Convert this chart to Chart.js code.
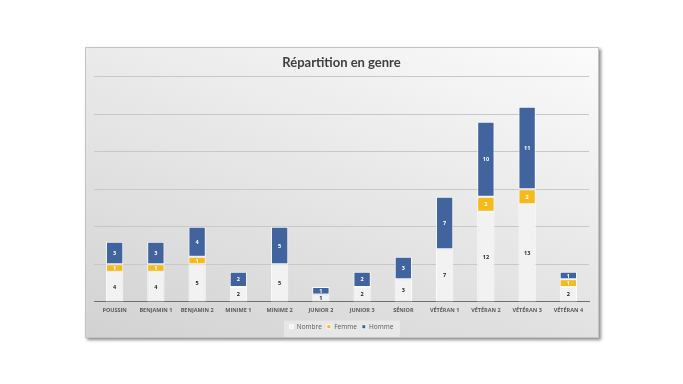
<!DOCTYPE html>
<html>
<head>
<meta charset="utf-8">
<script src="https://cdn.jsdelivr.net/npm/chart.js@4/dist/chart.umd.min.js"></script>
<style>
    html, body { margin: 0; padding: 0; background: #fff; }
    #box {
        position: absolute;
        left: 85px; top: 47px;
        width: 512px; height: 289px;
        background: linear-gradient(200deg, #fbfbfb 0%, #e8e8e8 45%, #d2d2d2 100%);
        border: 1px solid #c4c4c4;
        box-shadow: 2px 2px 3px rgba(0, 0, 0, 0.45);
    }
</style>
</head>
<body>
<div id="box"><canvas id="myChart" width="512" height="289"></canvas></div>
<script>
// Catégories et séries
const categories = ['POUSSIN', 'BENJAMIN 1', 'BENJAMIN 2', 'MINIME 1', 'MINIME 2', 'JUNIOR 2',
    'JUNIOR 3', 'SÉNIOR', 'VÉTÉRAN 1', 'VÉTÉRAN 2', 'VÉTÉRAN 3', 'VÉTÉRAN 4'];
const nombre = [4, 4, 5, 2, 5, 1, 2, 3, 7, 12, 13, 2];
const femme  = [1, 1, 1, 0, 0, 0, 0, 0, 0, 2, 2, 1];
const homme  = [3, 3, 4, 2, 5, 1, 2, 3, 7, 10, 11, 1];

const labelColors = ['#262626', '#ffffff', '#ffffff'];

// Valeurs au centre des barres
const barLabels = {
    id: 'barLabels',
    afterDatasetsDraw(chart) {
        const {ctx, data} = chart;
        ctx.save();
        ctx.font = '700 5.5px "Open Sans"';
        ctx.textAlign = 'center';
        ctx.textBaseline = 'middle';
        data.datasets.forEach((ds, di) => {
            chart.getDatasetMeta(di).data.forEach((bar, i) => {
                const v = ds.data[i];
                if (!v) return;
                ctx.fillStyle = labelColors[di];
                ctx.fillText(v, bar.x, (bar.y + bar.base) / 2 + 0.5);
            });
        });
        ctx.restore();
    }
};

// Fond clair de la légende
const legendBg = {
    id: 'legendBg',
    beforeDraw(chart) {
        const l = chart.legend;
        if (!l) return;
        const {ctx} = chart;
        ctx.save();
        ctx.fillStyle = 'rgba(255, 255, 255, 0.35)';
        const w = 116;
        ctx.fillRect(chart.width / 2 - w / 2, l.top + 2, w, l.height - 4);
        ctx.restore();
    }
};

const ctx = document.getElementById('myChart');

new Chart(ctx, {
    type: 'bar',
    data: {
        labels: categories,
        datasets: [
            { label: 'Nombre', data: nombre, backgroundColor: '#f2f2f2' },
            { label: 'Femme', data: femme, backgroundColor: '#f5bb1e' },
            { label: 'Homme', data: homme, backgroundColor: '#41649f' }
        ]
    },
    options: {
        responsive: false,
        animation: false,
        layout: {
            padding: { top: 0, left: 8, right: 9, bottom: -3 }
        },
        datasets: {
            bar: {
                categoryPercentage: 1,
                barPercentage: 0.42,
                borderWidth: 1,
                borderColor: 'rgba(255, 255, 255, 0.85)',
                borderSkipped: false
            }
        },
        plugins: {
            legend: {
                position: 'bottom',
                labels: {
                    font: { family: 'Open Sans', size: 6.5 },
                    color: '#595959',
                    boxWidth: 4,
                    boxHeight: 4,
                    padding: 5
                }
            },
            title: {
                display: true,
                text: 'Répartition en genre',
                color: '#404040',
                font: { family: 'Lato', size: 13, weight: 'bold' },
                padding: { top: 7, bottom: 6 }
            },
            tooltip: { enabled: false }
        },
        scales: {
            x: {
                stacked: true,
                grid: { display: false, drawTicks: false },
                border: { display: true, color: '#6f6f6f', width: 1 },
                ticks: {
                    color: '#595959',
                    font: { family: 'Open Sans', size: 5.5, weight: '700' },
                    maxRotation: 0,
                    autoSkip: false,
                    padding: 5
                }
            },
            y: {
                stacked: true,
                min: 0,
                max: 30,
                ticks: { display: false, stepSize: 5 },
                grid: { color: '#c8c8c8', drawTicks: false },
                border: { display: false }
            }
        }
    },
    plugins: [barLabels, legendBg]
});
</script>
</body>
</html>
